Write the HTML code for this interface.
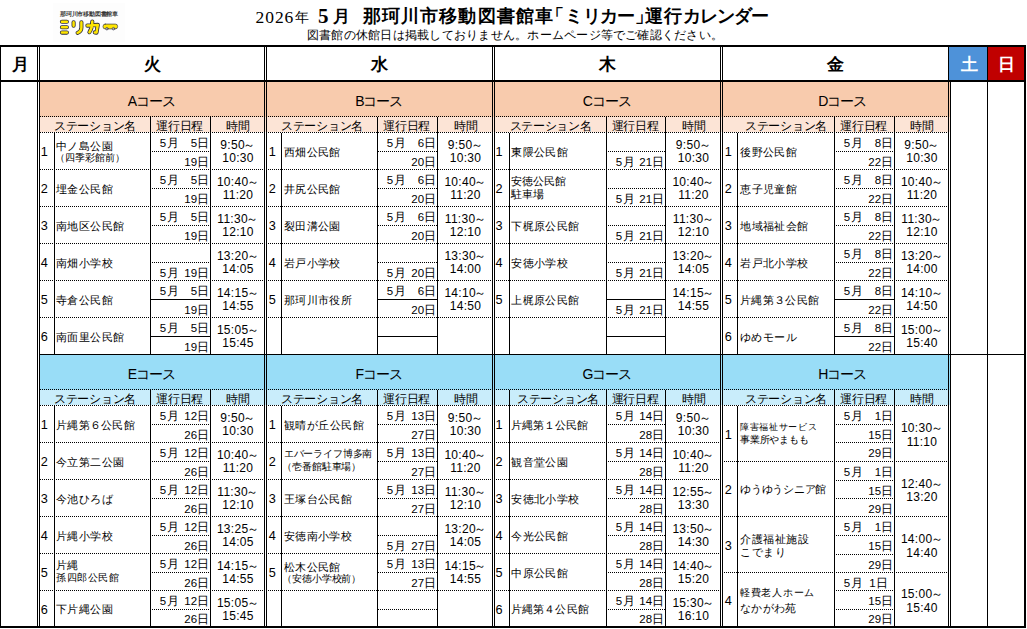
<!DOCTYPE html>
<html lang="ja"><head><meta charset="utf-8"><title>那珂川市移動図書館車「ミリカー」運行カレンダー</title>
<style>
html,body{margin:0;padding:0;background:#fff}
body{width:1027px;height:629px;position:relative;overflow:hidden;font-family:"Liberation Sans",sans-serif;color:#000}
div{box-sizing:border-box}
body>div{position:absolute}
.l{background:#000}
.dh{background:repeating-linear-gradient(90deg,#000 0,#000 1px,transparent 1px,transparent 2px)}
.o{background:repeating-linear-gradient(90deg,transparent 0,transparent 1px,#000 1px,#000 2px)}
.t{white-space:nowrap;height:20px;line-height:20px}
.ct{text-align:center;font-size:14px;letter-spacing:-1.1px}
.hd{text-align:center;font-size:12px;letter-spacing:-0.3px}
.dw{text-align:center;font-weight:bold;font-size:17px}
.nm{font-size:12.7px}
.st{font-size:11px;letter-spacing:0.42px}
.dt{font-size:11.5px}
.mo{letter-spacing:1px}
.r{text-align:right}
.tm{font-size:12px;letter-spacing:0.3px;text-align:center}
.w{margin-left:-1.6px}
.ttl{font-family:"Liberation Serif",serif}
</style></head><body>

<div class="ttl" style="left:255.5px;top:7.2px;font-size:17.5px;line-height:20px;letter-spacing:0.95px;white-space:nowrap">2026<span style="font-size:13.5px;letter-spacing:0;margin-left:0.5px;position:relative;top:-1px">年</span></div>
<div class="ttl" style="left:318px;top:3.9px;font-size:21px;line-height:24px;font-weight:bold;white-space:nowrap">5<span style="font-size:16.5px;margin-left:4.5px;position:relative;top:-1px">月</span></div>
<div class="ttl" style="left:363px;top:3.7px;font-size:17.5px;line-height:24px;font-weight:bold;white-space:nowrap;letter-spacing:1.1px">那珂川市移動図書館車<span style="margin-left:-8px">「</span><span style="letter-spacing:-0.6px">ミリカー</span><span style="letter-spacing:-8px">」</span>運行<span style="letter-spacing:-1.1px">カレンダー</span></div>
<div class="ttl" style="left:307px;top:27.6px;font-size:12px;line-height:14px;letter-spacing:0.24px;white-space:nowrap">図書館の休館日は掲載しておりません。ホームページ等でご確認ください。</div>
<div style="left:53px;top:3px;width:72px;height:39px;background:#fdfdfd"></div>
<div style="left:60px;top:10px;font-size:12px;line-height:14px;letter-spacing:-0.4px;color:#333;font-weight:bold;white-space:nowrap;transform:scale(0.5);transform-origin:0 0">那珂川市移動図書館車</div>
<svg style="position:absolute;left:52px;top:4px" width="76" height="38" viewBox="0 0 76 38" fill="none" stroke-linecap="round" stroke-linejoin="round">
<g stroke="#2e2e40" stroke-width="4.1">
<path d="M9.9 17.8H14.9M9.9 23.2H14.9M9.9 28.6H14.9"/>
<path d="M21.6 18.2V21.8M29.4 18.2V23.5Q29.4 27.4 25.6 28.8"/>
<path d="M35.4 21.6L45.8 20.9L44.5 28.6L42.8 28.4M40.3 17.5Q40.3 24 37.4 28.2"/>
</g>
<g stroke="#ffe600" stroke-width="2.5">
<path d="M9.9 17.8H14.9M9.9 23.2H14.9M9.9 28.6H14.9"/>
<path d="M21.6 18.2V21.8M29.4 18.2V23.5Q29.4 27.4 25.6 28.8"/>
<path d="M35.4 21.6L45.8 20.9L44.5 28.6L42.8 28.4M40.3 17.5Q40.3 24 37.4 28.2"/>
</g>
<rect x="51" y="20.1" width="14.6" height="4.8" rx="2.2" fill="#ffe600" stroke="#3a3a4e" stroke-width="0.7"/>
<circle cx="54.9" cy="24.7" r="1.3" fill="#aaa" stroke="#3a3a4e" stroke-width="0.6"/>
<circle cx="61.5" cy="24.7" r="1.3" fill="#aaa" stroke="#3a3a4e" stroke-width="0.6"/>
</svg>
<div style="left:949px;top:47px;width:38px;height:33px;background:#4e92d9"></div>
<div style="left:988px;top:47px;width:36px;height:33px;background:#c00000"></div>
<div style="left:39px;top:82px;width:227px;height:35px;background:#f8cbad"></div>
<div style="left:39px;top:117px;width:227px;height:15px;background:#fce4d6"></div>
<div class="t ct" style="left:39.2px;top:90.7px;width:224px;">Aコース</div>
<div class="t hd" style="left:40px;top:116px;width:110px;">ステーション名</div>
<div class="t hd" style="left:150.2px;top:116px;width:59px;">運行日程</div>
<div class="t hd" style="left:211.7px;top:116px;width:53px;">時間</div>
<div class="dh" style="left:40px;top:116px;width:224px;height:1px;"></div>
<div class="dh" style="left:40px;top:132px;width:224px;height:1px;"></div>
<div class="l" style="left:54px;top:133px;width:1px;height:221px;"></div>
<div class="l" style="left:150px;top:117px;width:1px;height:237px;"></div>
<div class="l" style="left:210px;top:117px;width:1px;height:237px;"></div>
<div class="dh" style="left:40px;top:169px;width:224px;height:1px;"></div>
<div class="dh o" style="left:151px;top:151px;width:59px;height:1px;"></div>
<div class="t nm" style="left:40.8px;top:142.1px;">1</div>
<div class="t st" style="left:56.05px;top:135.8px;">中ノ島公園</div>
<div class="t st" style="left:54.51px;top:147.9px;font-size:9.8px;letter-spacing:0px">（四季彩館前）</div>
<div class="t dt mo" style="left:159.7px;top:133.3px;">5月</div>
<div class="t dt r" style="left:169.1px;top:133.3px;width:40px;">5日</div>
<div class="t dt r" style="left:169.1px;top:151.8px;width:40px;">19日</div>
<div class="t tm" style="left:211.5px;top:135.1px;width:53px;">9:50<span class="w">～</span></div>
<div class="t tm" style="left:211.5px;top:148.1px;width:53px;">10:30</div>
<div class="dh" style="left:40px;top:206px;width:224px;height:1px;"></div>
<div class="dh o" style="left:151px;top:188px;width:59px;height:1px;"></div>
<div class="t nm" style="left:40.8px;top:179.1px;">2</div>
<div class="t st" style="left:56.05px;top:178.8px;">埋金公民館</div>
<div class="t dt mo" style="left:159.7px;top:170.3px;">5月</div>
<div class="t dt r" style="left:169.1px;top:170.3px;width:40px;">5日</div>
<div class="t dt r" style="left:169.1px;top:188.8px;width:40px;">19日</div>
<div class="t tm" style="left:211.5px;top:172.1px;width:53px;">10:40<span class="w">～</span></div>
<div class="t tm" style="left:211.5px;top:185.1px;width:53px;">11:20</div>
<div class="dh" style="left:40px;top:243px;width:224px;height:1px;"></div>
<div class="dh o" style="left:151px;top:225px;width:59px;height:1px;"></div>
<div class="t nm" style="left:40.8px;top:216.1px;">3</div>
<div class="t st" style="left:56.05px;top:215.8px;">南地区公民館</div>
<div class="t dt mo" style="left:159.7px;top:207.3px;">5月</div>
<div class="t dt r" style="left:169.1px;top:207.3px;width:40px;">5日</div>
<div class="t dt r" style="left:169.1px;top:225.8px;width:40px;">19日</div>
<div class="t tm" style="left:211.5px;top:209.1px;width:53px;">11:30<span class="w">～</span></div>
<div class="t tm" style="left:211.5px;top:222.1px;width:53px;">12:10</div>
<div class="dh" style="left:40px;top:280px;width:224px;height:1px;"></div>
<div class="dh o" style="left:151px;top:262px;width:59px;height:1px;"></div>
<div class="t nm" style="left:40.8px;top:253.1px;">4</div>
<div class="t st" style="left:56.05px;top:252.8px;">南畑小学校</div>
<div class="t dt mo" style="left:159.7px;top:262.8px;">5月</div>
<div class="t dt r" style="left:169.1px;top:262.8px;width:40px;">19日</div>
<div class="t tm" style="left:211.5px;top:246.1px;width:53px;">13:20<span class="w">～</span></div>
<div class="t tm" style="left:211.5px;top:259.1px;width:53px;">14:05</div>
<div class="dh" style="left:40px;top:317px;width:224px;height:1px;"></div>
<div class="l" style="left:151px;top:299px;width:59px;height:1px;"></div>
<div class="t nm" style="left:40.8px;top:290.1px;">5</div>
<div class="t st" style="left:56.05px;top:289.8px;">寺倉公民館</div>
<div class="t dt mo" style="left:159.7px;top:281.3px;">5月</div>
<div class="t dt r" style="left:169.1px;top:281.3px;width:40px;">5日</div>
<div class="t dt r" style="left:169.1px;top:299.8px;width:40px;">19日</div>
<div class="t tm" style="left:211.5px;top:283.1px;width:53px;">14:15<span class="w">～</span></div>
<div class="t tm" style="left:211.5px;top:296.1px;width:53px;">14:55</div>
<div class="l" style="left:151px;top:336px;width:59px;height:1px;"></div>
<div class="t nm" style="left:40.8px;top:327.1px;">6</div>
<div class="t st" style="left:56.05px;top:326.8px;">南面里公民館</div>
<div class="t dt mo" style="left:159.7px;top:318.3px;">5月</div>
<div class="t dt r" style="left:169.1px;top:318.3px;width:40px;">5日</div>
<div class="t dt r" style="left:169.1px;top:336.8px;width:40px;">19日</div>
<div class="t tm" style="left:211.5px;top:320.1px;width:53px;">15:05<span class="w">～</span></div>
<div class="t tm" style="left:211.5px;top:333.1px;width:53px;">15:45</div>
<div style="left:266px;top:82px;width:228px;height:35px;background:#f8cbad"></div>
<div style="left:266px;top:117px;width:228px;height:15px;background:#fce4d6"></div>
<div class="t ct" style="left:266.2px;top:90.7px;width:225px;">Bコース</div>
<div class="t hd" style="left:267px;top:116px;width:110px;">ステーション名</div>
<div class="t hd" style="left:377.2px;top:116px;width:59px;">運行日程</div>
<div class="t hd" style="left:438.7px;top:116px;width:54px;">時間</div>
<div class="dh o" style="left:267px;top:116px;width:225px;height:1px;"></div>
<div class="dh o" style="left:267px;top:132px;width:225px;height:1px;"></div>
<div class="l" style="left:281px;top:133px;width:1px;height:221px;"></div>
<div class="l" style="left:377px;top:117px;width:1px;height:237px;"></div>
<div class="l" style="left:437px;top:117px;width:1px;height:237px;"></div>
<div class="dh o" style="left:267px;top:169px;width:225px;height:1px;"></div>
<div class="dh" style="left:378px;top:151px;width:59px;height:1px;"></div>
<div class="t nm" style="left:268.7px;top:142.1px;">1</div>
<div class="t st" style="left:283.7px;top:141.8px;">西畑公民館</div>
<div class="t dt mo" style="left:386.7px;top:133.3px;">5月</div>
<div class="t dt r" style="left:396.1px;top:133.3px;width:40px;">6日</div>
<div class="t dt r" style="left:396.1px;top:151.8px;width:40px;">20日</div>
<div class="t tm" style="left:438.5px;top:135.1px;width:54px;">9:50<span class="w">～</span></div>
<div class="t tm" style="left:438.5px;top:148.1px;width:54px;">10:30</div>
<div class="dh o" style="left:267px;top:206px;width:225px;height:1px;"></div>
<div class="dh" style="left:378px;top:188px;width:59px;height:1px;"></div>
<div class="t nm" style="left:268.7px;top:179.1px;">2</div>
<div class="t st" style="left:283.7px;top:178.8px;">井尻公民館</div>
<div class="t dt mo" style="left:386.7px;top:170.3px;">5月</div>
<div class="t dt r" style="left:396.1px;top:170.3px;width:40px;">6日</div>
<div class="t dt r" style="left:396.1px;top:188.8px;width:40px;">20日</div>
<div class="t tm" style="left:438.5px;top:172.1px;width:54px;">10:40<span class="w">～</span></div>
<div class="t tm" style="left:438.5px;top:185.1px;width:54px;">11:20</div>
<div class="dh o" style="left:267px;top:243px;width:225px;height:1px;"></div>
<div class="dh" style="left:378px;top:225px;width:59px;height:1px;"></div>
<div class="t nm" style="left:268.7px;top:216.1px;">3</div>
<div class="t st" style="left:283.7px;top:215.8px;">裂田溝公園</div>
<div class="t dt mo" style="left:386.7px;top:207.3px;">5月</div>
<div class="t dt r" style="left:396.1px;top:207.3px;width:40px;">6日</div>
<div class="t dt r" style="left:396.1px;top:225.8px;width:40px;">20日</div>
<div class="t tm" style="left:438.5px;top:209.1px;width:54px;">11:30<span class="w">～</span></div>
<div class="t tm" style="left:438.5px;top:222.1px;width:54px;">12:10</div>
<div class="dh o" style="left:267px;top:280px;width:225px;height:1px;"></div>
<div class="dh" style="left:378px;top:262px;width:59px;height:1px;"></div>
<div class="t nm" style="left:268.7px;top:253.1px;">4</div>
<div class="t st" style="left:283.7px;top:252.8px;">岩戸小学校</div>
<div class="t dt mo" style="left:386.7px;top:262.8px;">5月</div>
<div class="t dt r" style="left:396.1px;top:262.8px;width:40px;">20日</div>
<div class="t tm" style="left:438.5px;top:246.1px;width:54px;">13:30<span class="w">～</span></div>
<div class="t tm" style="left:438.5px;top:259.1px;width:54px;">14:00</div>
<div class="dh o" style="left:267px;top:317px;width:225px;height:1px;"></div>
<div class="l" style="left:378px;top:299px;width:59px;height:1px;"></div>
<div class="t nm" style="left:268.7px;top:290.1px;">5</div>
<div class="t st" style="left:283.7px;top:289.8px;">那珂川市役所</div>
<div class="t dt mo" style="left:386.7px;top:281.3px;">5月</div>
<div class="t dt r" style="left:396.1px;top:281.3px;width:40px;">6日</div>
<div class="t dt r" style="left:396.1px;top:299.8px;width:40px;">20日</div>
<div class="t tm" style="left:438.5px;top:283.1px;width:54px;">14:10<span class="w">～</span></div>
<div class="t tm" style="left:438.5px;top:296.1px;width:54px;">14:50</div>
<div class="l" style="left:378px;top:336px;width:59px;height:1px;"></div>
<div style="left:494px;top:82px;width:228px;height:35px;background:#f8cbad"></div>
<div style="left:494px;top:117px;width:228px;height:15px;background:#fce4d6"></div>
<div class="t ct" style="left:494.2px;top:90.7px;width:225px;">Cコース</div>
<div class="t hd" style="left:495px;top:116px;width:111px;">ステーション名</div>
<div class="t hd" style="left:606.2px;top:116px;width:58px;">運行日程</div>
<div class="t hd" style="left:666.7px;top:116px;width:54px;">時間</div>
<div class="dh o" style="left:495px;top:116px;width:225px;height:1px;"></div>
<div class="dh o" style="left:495px;top:132px;width:225px;height:1px;"></div>
<div class="l" style="left:509px;top:133px;width:1px;height:221px;"></div>
<div class="l" style="left:606px;top:117px;width:1px;height:237px;"></div>
<div class="l" style="left:665px;top:117px;width:1px;height:237px;"></div>
<div class="dh o" style="left:495px;top:169px;width:225px;height:1px;"></div>
<div class="dh o" style="left:607px;top:151px;width:58px;height:1px;"></div>
<div class="t nm" style="left:495.6px;top:142.1px;">1</div>
<div class="t st" style="left:511.1px;top:141.8px;">東隈公民館</div>
<div class="t dt mo" style="left:615.7px;top:151.8px;">5月</div>
<div class="t dt r" style="left:624.1px;top:151.8px;width:40px;">21日</div>
<div class="t tm" style="left:666.5px;top:135.1px;width:54px;">9:50<span class="w">～</span></div>
<div class="t tm" style="left:666.5px;top:148.1px;width:54px;">10:30</div>
<div class="dh o" style="left:495px;top:206px;width:225px;height:1px;"></div>
<div class="dh o" style="left:607px;top:188px;width:58px;height:1px;"></div>
<div class="t nm" style="left:495.6px;top:179.1px;">2</div>
<div class="t st" style="left:511.1px;top:170.9px;font-size:10.6px;letter-spacing:-0.1px">安徳公民館</div>
<div class="t st" style="left:511.1px;top:184px;font-size:10.5px;letter-spacing:-0.25px">駐車場</div>
<div class="t dt mo" style="left:615.7px;top:188.8px;">5月</div>
<div class="t dt r" style="left:624.1px;top:188.8px;width:40px;">21日</div>
<div class="t tm" style="left:666.5px;top:172.1px;width:54px;">10:40<span class="w">～</span></div>
<div class="t tm" style="left:666.5px;top:185.1px;width:54px;">11:20</div>
<div class="dh o" style="left:495px;top:243px;width:225px;height:1px;"></div>
<div class="dh o" style="left:607px;top:225px;width:58px;height:1px;"></div>
<div class="t nm" style="left:495.6px;top:216.1px;">3</div>
<div class="t st" style="left:511.1px;top:215.8px;">下梶原公民館</div>
<div class="t dt mo" style="left:615.7px;top:225.8px;">5月</div>
<div class="t dt r" style="left:624.1px;top:225.8px;width:40px;">21日</div>
<div class="t tm" style="left:666.5px;top:209.1px;width:54px;">11:30<span class="w">～</span></div>
<div class="t tm" style="left:666.5px;top:222.1px;width:54px;">12:10</div>
<div class="dh o" style="left:495px;top:280px;width:225px;height:1px;"></div>
<div class="dh o" style="left:607px;top:262px;width:58px;height:1px;"></div>
<div class="t nm" style="left:495.6px;top:253.1px;">4</div>
<div class="t st" style="left:511.1px;top:252.8px;">安徳小学校</div>
<div class="t dt mo" style="left:615.7px;top:262.8px;">5月</div>
<div class="t dt r" style="left:624.1px;top:262.8px;width:40px;">21日</div>
<div class="t tm" style="left:666.5px;top:246.1px;width:54px;">13:20<span class="w">～</span></div>
<div class="t tm" style="left:666.5px;top:259.1px;width:54px;">14:05</div>
<div class="dh o" style="left:495px;top:317px;width:225px;height:1px;"></div>
<div class="l" style="left:607px;top:299px;width:58px;height:1px;"></div>
<div class="t nm" style="left:495.6px;top:290.1px;">5</div>
<div class="t st" style="left:511.1px;top:289.8px;">上梶原公民館</div>
<div class="t dt mo" style="left:615.7px;top:299.8px;">5月</div>
<div class="t dt r" style="left:624.1px;top:299.8px;width:40px;">21日</div>
<div class="t tm" style="left:666.5px;top:283.1px;width:54px;">14:15<span class="w">～</span></div>
<div class="t tm" style="left:666.5px;top:296.1px;width:54px;">14:55</div>
<div class="l" style="left:607px;top:336px;width:58px;height:1px;"></div>
<div style="left:722px;top:82px;width:228px;height:35px;background:#f8cbad"></div>
<div style="left:722px;top:117px;width:228px;height:15px;background:#fce4d6"></div>
<div class="t ct" style="left:737.2px;top:90.7px;width:210px;">Dコース</div>
<div class="t hd" style="left:738px;top:116px;width:96px;">ステーション名</div>
<div class="t hd" style="left:834.2px;top:116px;width:59px;">運行日程</div>
<div class="t hd" style="left:895.7px;top:116px;width:53px;">時間</div>
<div class="dh o" style="left:723px;top:116px;width:225px;height:1px;"></div>
<div class="dh o" style="left:723px;top:132px;width:225px;height:1px;"></div>
<div class="l" style="left:737px;top:133px;width:1px;height:221px;"></div>
<div class="l" style="left:834px;top:117px;width:1px;height:237px;"></div>
<div class="l" style="left:894px;top:117px;width:1px;height:237px;"></div>
<div class="dh o" style="left:723px;top:169px;width:225px;height:1px;"></div>
<div class="dh o" style="left:835px;top:151px;width:59px;height:1px;"></div>
<div class="t nm" style="left:724.8px;top:142.1px;">1</div>
<div class="t st" style="left:740.1px;top:141.8px;">後野公民館</div>
<div class="t dt mo" style="left:843.7px;top:133.3px;">5月</div>
<div class="t dt r" style="left:853.1px;top:133.3px;width:40px;">8日</div>
<div class="t dt r" style="left:853.1px;top:151.8px;width:40px;">22日</div>
<div class="t tm" style="left:895.5px;top:135.1px;width:53px;">9:50<span class="w">～</span></div>
<div class="t tm" style="left:895.5px;top:148.1px;width:53px;">10:30</div>
<div class="dh o" style="left:723px;top:206px;width:225px;height:1px;"></div>
<div class="dh o" style="left:835px;top:188px;width:59px;height:1px;"></div>
<div class="t nm" style="left:724.8px;top:179.1px;">2</div>
<div class="t st" style="left:740.1px;top:178.8px;">恵子児童館</div>
<div class="t dt mo" style="left:843.7px;top:170.3px;">5月</div>
<div class="t dt r" style="left:853.1px;top:170.3px;width:40px;">8日</div>
<div class="t dt r" style="left:853.1px;top:188.8px;width:40px;">22日</div>
<div class="t tm" style="left:895.5px;top:172.1px;width:53px;">10:40<span class="w">～</span></div>
<div class="t tm" style="left:895.5px;top:185.1px;width:53px;">11:20</div>
<div class="dh o" style="left:723px;top:243px;width:225px;height:1px;"></div>
<div class="dh o" style="left:835px;top:225px;width:59px;height:1px;"></div>
<div class="t nm" style="left:724.8px;top:216.1px;">3</div>
<div class="t st" style="left:740.1px;top:215.8px;">地域福祉会館</div>
<div class="t dt mo" style="left:843.7px;top:207.3px;">5月</div>
<div class="t dt r" style="left:853.1px;top:207.3px;width:40px;">8日</div>
<div class="t dt r" style="left:853.1px;top:225.8px;width:40px;">22日</div>
<div class="t tm" style="left:895.5px;top:209.1px;width:53px;">11:30<span class="w">～</span></div>
<div class="t tm" style="left:895.5px;top:222.1px;width:53px;">12:10</div>
<div class="dh o" style="left:723px;top:280px;width:225px;height:1px;"></div>
<div class="dh o" style="left:835px;top:262px;width:59px;height:1px;"></div>
<div class="t nm" style="left:724.8px;top:253.1px;">4</div>
<div class="t st" style="left:740.1px;top:252.8px;">岩戸北小学校</div>
<div class="t dt mo" style="left:843.7px;top:244.3px;">5月</div>
<div class="t dt r" style="left:853.1px;top:244.3px;width:40px;">8日</div>
<div class="t dt r" style="left:853.1px;top:262.8px;width:40px;">22日</div>
<div class="t tm" style="left:895.5px;top:246.1px;width:53px;">13:20<span class="w">～</span></div>
<div class="t tm" style="left:895.5px;top:259.1px;width:53px;">14:00</div>
<div class="dh o" style="left:723px;top:317px;width:225px;height:1px;"></div>
<div class="l" style="left:835px;top:299px;width:59px;height:1px;"></div>
<div class="t nm" style="left:724.8px;top:290.1px;">5</div>
<div class="t st" style="left:740.1px;top:289.8px;font-size:11px;letter-spacing:0.3px">片縄第３公民館</div>
<div class="t dt mo" style="left:843.7px;top:281.3px;">5月</div>
<div class="t dt r" style="left:853.1px;top:281.3px;width:40px;">8日</div>
<div class="t dt r" style="left:853.1px;top:299.8px;width:40px;">22日</div>
<div class="t tm" style="left:895.5px;top:283.1px;width:53px;">14:10<span class="w">～</span></div>
<div class="t tm" style="left:895.5px;top:296.1px;width:53px;">14:50</div>
<div class="l" style="left:835px;top:336px;width:59px;height:1px;"></div>
<div class="t nm" style="left:724.8px;top:327.1px;">6</div>
<div class="t st" style="left:740.1px;top:326.8px;font-size:11.1px;letter-spacing:0.4px">ゆめモール</div>
<div class="t dt mo" style="left:843.7px;top:318.3px;">5月</div>
<div class="t dt r" style="left:853.1px;top:318.3px;width:40px;">8日</div>
<div class="t dt r" style="left:853.1px;top:336.8px;width:40px;">22日</div>
<div class="t tm" style="left:895.5px;top:320.1px;width:53px;">15:00<span class="w">～</span></div>
<div class="t tm" style="left:895.5px;top:333.1px;width:53px;">15:40</div>
<div style="left:39px;top:355px;width:227px;height:35px;background:#99ddf7"></div>
<div style="left:39px;top:390px;width:227px;height:15px;background:#c9edfb"></div>
<div class="t ct" style="left:39.2px;top:363.7px;width:224px;">Eコース</div>
<div class="t hd" style="left:40px;top:389px;width:110px;">ステーション名</div>
<div class="t hd" style="left:150.2px;top:389px;width:59px;">運行日程</div>
<div class="t hd" style="left:211.7px;top:389px;width:53px;">時間</div>
<div class="dh" style="left:40px;top:389px;width:224px;height:1px;"></div>
<div class="dh" style="left:40px;top:405px;width:224px;height:1px;"></div>
<div class="l" style="left:54px;top:406px;width:1px;height:220px;"></div>
<div class="l" style="left:150px;top:390px;width:1px;height:236px;"></div>
<div class="l" style="left:210px;top:390px;width:1px;height:236px;"></div>
<div class="dh" style="left:40px;top:442px;width:224px;height:1px;"></div>
<div class="dh o" style="left:151px;top:424px;width:59px;height:1px;"></div>
<div class="t nm" style="left:40.8px;top:415.1px;">1</div>
<div class="t st" style="left:56.05px;top:414.8px;font-size:11px;letter-spacing:0.25px">片縄第６公民館</div>
<div class="t dt mo" style="left:159.7px;top:406.3px;">5月</div>
<div class="t dt r" style="left:169.1px;top:406.3px;width:40px;">12日</div>
<div class="t dt r" style="left:169.1px;top:424.8px;width:40px;">26日</div>
<div class="t tm" style="left:211.5px;top:408.1px;width:53px;">9:50<span class="w">～</span></div>
<div class="t tm" style="left:211.5px;top:421.1px;width:53px;">10:30</div>
<div class="dh" style="left:40px;top:479px;width:224px;height:1px;"></div>
<div class="dh o" style="left:151px;top:461px;width:59px;height:1px;"></div>
<div class="t nm" style="left:40.8px;top:452.1px;">2</div>
<div class="t st" style="left:56.05px;top:451.8px;">今立第二公園</div>
<div class="t dt mo" style="left:159.7px;top:443.3px;">5月</div>
<div class="t dt r" style="left:169.1px;top:443.3px;width:40px;">12日</div>
<div class="t dt r" style="left:169.1px;top:461.8px;width:40px;">26日</div>
<div class="t tm" style="left:211.5px;top:445.1px;width:53px;">10:40<span class="w">～</span></div>
<div class="t tm" style="left:211.5px;top:458.1px;width:53px;">11:20</div>
<div class="dh" style="left:40px;top:516px;width:224px;height:1px;"></div>
<div class="dh o" style="left:151px;top:498px;width:59px;height:1px;"></div>
<div class="t nm" style="left:40.8px;top:489.1px;">3</div>
<div class="t st" style="left:56.05px;top:488.8px;">今池ひろば</div>
<div class="t dt mo" style="left:159.7px;top:480.3px;">5月</div>
<div class="t dt r" style="left:169.1px;top:480.3px;width:40px;">12日</div>
<div class="t dt r" style="left:169.1px;top:498.8px;width:40px;">26日</div>
<div class="t tm" style="left:211.5px;top:482.1px;width:53px;">11:30<span class="w">～</span></div>
<div class="t tm" style="left:211.5px;top:495.1px;width:53px;">12:10</div>
<div class="dh" style="left:40px;top:553px;width:224px;height:1px;"></div>
<div class="dh o" style="left:151px;top:535px;width:59px;height:1px;"></div>
<div class="t nm" style="left:40.8px;top:526.1px;">4</div>
<div class="t st" style="left:56.05px;top:525.8px;">片縄小学校</div>
<div class="t dt mo" style="left:159.7px;top:517.3px;">5月</div>
<div class="t dt r" style="left:169.1px;top:517.3px;width:40px;">12日</div>
<div class="t dt r" style="left:169.1px;top:535.8px;width:40px;">26日</div>
<div class="t tm" style="left:211.5px;top:519.1px;width:53px;">13:25<span class="w">～</span></div>
<div class="t tm" style="left:211.5px;top:532.1px;width:53px;">14:05</div>
<div class="dh" style="left:40px;top:590px;width:224px;height:1px;"></div>
<div class="dh o" style="left:151px;top:572px;width:59px;height:1px;"></div>
<div class="t nm" style="left:40.8px;top:563.1px;">5</div>
<div class="t st" style="left:56.05px;top:554.9px;font-size:10.9px;letter-spacing:0.2px">片縄</div>
<div class="t st" style="left:56.05px;top:568px;font-size:10.3px;letter-spacing:0.6px">孫四郎公民館</div>
<div class="t dt mo" style="left:159.7px;top:554.3px;">5月</div>
<div class="t dt r" style="left:169.1px;top:554.3px;width:40px;">12日</div>
<div class="t dt r" style="left:169.1px;top:572.8px;width:40px;">26日</div>
<div class="t tm" style="left:211.5px;top:556.1px;width:53px;">14:15<span class="w">～</span></div>
<div class="t tm" style="left:211.5px;top:569.1px;width:53px;">14:55</div>
<div class="dh o" style="left:151px;top:609px;width:59px;height:1px;"></div>
<div class="t nm" style="left:40.8px;top:599.6px;">6</div>
<div class="t st" style="left:56.05px;top:599.3px;">下片縄公園</div>
<div class="t dt mo" style="left:159.7px;top:591.3px;">5月</div>
<div class="t dt r" style="left:169.1px;top:591.3px;width:40px;">12日</div>
<div class="t dt r" style="left:169.1px;top:609.3px;width:40px;">26日</div>
<div class="t tm" style="left:211.5px;top:592.6px;width:53px;">15:05<span class="w">～</span></div>
<div class="t tm" style="left:211.5px;top:605.6px;width:53px;">15:45</div>
<div style="left:266px;top:355px;width:228px;height:35px;background:#99ddf7"></div>
<div style="left:266px;top:390px;width:228px;height:15px;background:#c9edfb"></div>
<div class="t ct" style="left:266.2px;top:363.7px;width:225px;">Fコース</div>
<div class="t hd" style="left:267px;top:389px;width:110px;">ステーション名</div>
<div class="t hd" style="left:377.2px;top:389px;width:59px;">運行日程</div>
<div class="t hd" style="left:438.7px;top:389px;width:54px;">時間</div>
<div class="dh o" style="left:267px;top:389px;width:225px;height:1px;"></div>
<div class="dh o" style="left:267px;top:405px;width:225px;height:1px;"></div>
<div class="l" style="left:281px;top:406px;width:1px;height:220px;"></div>
<div class="l" style="left:377px;top:390px;width:1px;height:236px;"></div>
<div class="l" style="left:437px;top:390px;width:1px;height:236px;"></div>
<div class="dh o" style="left:267px;top:442px;width:225px;height:1px;"></div>
<div class="dh" style="left:378px;top:424px;width:59px;height:1px;"></div>
<div class="t nm" style="left:268.7px;top:415.1px;">1</div>
<div class="t st" style="left:283.7px;top:414.8px;font-size:11.2px;letter-spacing:0.5px">観晴が丘公民館</div>
<div class="t dt mo" style="left:386.7px;top:406.3px;">5月</div>
<div class="t dt r" style="left:396.1px;top:406.3px;width:40px;">13日</div>
<div class="t dt r" style="left:396.1px;top:424.8px;width:40px;">27日</div>
<div class="t tm" style="left:438.5px;top:408.1px;width:54px;">9:50<span class="w">～</span></div>
<div class="t tm" style="left:438.5px;top:421.1px;width:54px;">10:30</div>
<div class="dh o" style="left:267px;top:479px;width:225px;height:1px;"></div>
<div class="dh" style="left:378px;top:461px;width:59px;height:1px;"></div>
<div class="t nm" style="left:268.7px;top:452.1px;">2</div>
<div class="t st" style="left:283.7px;top:444.4px;font-size:9.6px;letter-spacing:-0.15px">エバーライフ博多南</div>
<div class="t st" style="left:282.3px;top:457.4px;font-size:9.6px;letter-spacing:-0.15px">（壱番館駐車場）</div>
<div class="t dt mo" style="left:386.7px;top:443.3px;">5月</div>
<div class="t dt r" style="left:396.1px;top:443.3px;width:40px;">13日</div>
<div class="t dt r" style="left:396.1px;top:461.8px;width:40px;">27日</div>
<div class="t tm" style="left:438.5px;top:445.1px;width:54px;">10:40<span class="w">～</span></div>
<div class="t tm" style="left:438.5px;top:458.1px;width:54px;">11:20</div>
<div class="dh o" style="left:267px;top:516px;width:225px;height:1px;"></div>
<div class="dh" style="left:378px;top:498px;width:59px;height:1px;"></div>
<div class="t nm" style="left:268.7px;top:489.1px;">3</div>
<div class="t st" style="left:283.7px;top:488.8px;">王塚台公民館</div>
<div class="t dt mo" style="left:386.7px;top:480.3px;">5月</div>
<div class="t dt r" style="left:396.1px;top:480.3px;width:40px;">13日</div>
<div class="t dt r" style="left:396.1px;top:498.8px;width:40px;">27日</div>
<div class="t tm" style="left:438.5px;top:482.1px;width:54px;">11:30<span class="w">～</span></div>
<div class="t tm" style="left:438.5px;top:495.1px;width:54px;">12:10</div>
<div class="dh o" style="left:267px;top:553px;width:225px;height:1px;"></div>
<div class="dh" style="left:378px;top:535px;width:59px;height:1px;"></div>
<div class="t nm" style="left:268.7px;top:526.1px;">4</div>
<div class="t st" style="left:283.7px;top:525.8px;">安徳南小学校</div>
<div class="t dt mo" style="left:386.7px;top:535.8px;">5月</div>
<div class="t dt r" style="left:396.1px;top:535.8px;width:40px;">27日</div>
<div class="t tm" style="left:438.5px;top:519.1px;width:54px;">13:20<span class="w">～</span></div>
<div class="t tm" style="left:438.5px;top:532.1px;width:54px;">14:05</div>
<div class="dh o" style="left:267px;top:590px;width:225px;height:1px;"></div>
<div class="dh" style="left:378px;top:572px;width:59px;height:1px;"></div>
<div class="t nm" style="left:268.7px;top:563.1px;">5</div>
<div class="t st" style="left:283.7px;top:556.8px;">松木公民館</div>
<div class="t st" style="left:282.3px;top:568.9px;font-size:9.6px;letter-spacing:-0.15px">（安徳小学校前）</div>
<div class="t dt mo" style="left:386.7px;top:554.3px;">5月</div>
<div class="t dt r" style="left:396.1px;top:554.3px;width:40px;">13日</div>
<div class="t dt r" style="left:396.1px;top:572.8px;width:40px;">27日</div>
<div class="t tm" style="left:438.5px;top:556.1px;width:54px;">14:15<span class="w">～</span></div>
<div class="t tm" style="left:438.5px;top:569.1px;width:54px;">14:55</div>
<div class="dh" style="left:378px;top:609px;width:59px;height:1px;"></div>
<div style="left:494px;top:355px;width:228px;height:35px;background:#99ddf7"></div>
<div style="left:494px;top:390px;width:228px;height:15px;background:#c9edfb"></div>
<div class="t ct" style="left:494.2px;top:363.7px;width:225px;">Gコース</div>
<div class="t hd" style="left:510px;top:389px;width:96px;">ステーション名</div>
<div class="t hd" style="left:606.2px;top:389px;width:58px;">運行日程</div>
<div class="t hd" style="left:666.7px;top:389px;width:54px;">時間</div>
<div class="dh o" style="left:495px;top:389px;width:225px;height:1px;"></div>
<div class="dh o" style="left:495px;top:405px;width:225px;height:1px;"></div>
<div class="l" style="left:509px;top:390px;width:1px;height:236px;"></div>
<div class="l" style="left:606px;top:390px;width:1px;height:236px;"></div>
<div class="l" style="left:665px;top:390px;width:1px;height:236px;"></div>
<div class="dh o" style="left:495px;top:442px;width:225px;height:1px;"></div>
<div class="dh o" style="left:607px;top:424px;width:58px;height:1px;"></div>
<div class="t nm" style="left:495.6px;top:415.1px;">1</div>
<div class="t st" style="left:511.1px;top:414.8px;font-size:10.7px;letter-spacing:0px">片縄第１公民館</div>
<div class="t dt mo" style="left:615.7px;top:406.3px;">5月</div>
<div class="t dt r" style="left:624.1px;top:406.3px;width:40px;">14日</div>
<div class="t dt r" style="left:624.1px;top:424.8px;width:40px;">28日</div>
<div class="t tm" style="left:666.5px;top:408.1px;width:54px;">9:50<span class="w">～</span></div>
<div class="t tm" style="left:666.5px;top:421.1px;width:54px;">10:30</div>
<div class="dh o" style="left:495px;top:479px;width:225px;height:1px;"></div>
<div class="dh o" style="left:607px;top:461px;width:58px;height:1px;"></div>
<div class="t nm" style="left:495.6px;top:452.1px;">2</div>
<div class="t st" style="left:511.1px;top:451.8px;">観音堂公園</div>
<div class="t dt mo" style="left:615.7px;top:443.3px;">5月</div>
<div class="t dt r" style="left:624.1px;top:443.3px;width:40px;">14日</div>
<div class="t dt r" style="left:624.1px;top:461.8px;width:40px;">28日</div>
<div class="t tm" style="left:666.5px;top:445.1px;width:54px;">10:40<span class="w">～</span></div>
<div class="t tm" style="left:666.5px;top:458.1px;width:54px;">11:20</div>
<div class="dh o" style="left:495px;top:516px;width:225px;height:1px;"></div>
<div class="dh o" style="left:607px;top:498px;width:58px;height:1px;"></div>
<div class="t nm" style="left:495.6px;top:489.1px;">3</div>
<div class="t st" style="left:511.1px;top:488.8px;">安徳北小学校</div>
<div class="t dt mo" style="left:615.7px;top:480.3px;">5月</div>
<div class="t dt r" style="left:624.1px;top:480.3px;width:40px;">14日</div>
<div class="t dt r" style="left:624.1px;top:498.8px;width:40px;">28日</div>
<div class="t tm" style="left:666.5px;top:482.1px;width:54px;">12:55<span class="w">～</span></div>
<div class="t tm" style="left:666.5px;top:495.1px;width:54px;">13:30</div>
<div class="dh o" style="left:495px;top:553px;width:225px;height:1px;"></div>
<div class="dh o" style="left:607px;top:535px;width:58px;height:1px;"></div>
<div class="t nm" style="left:495.6px;top:526.1px;">4</div>
<div class="t st" style="left:511.1px;top:525.8px;">今光公民館</div>
<div class="t dt mo" style="left:615.7px;top:517.3px;">5月</div>
<div class="t dt r" style="left:624.1px;top:517.3px;width:40px;">14日</div>
<div class="t dt r" style="left:624.1px;top:535.8px;width:40px;">28日</div>
<div class="t tm" style="left:666.5px;top:519.1px;width:54px;">13:50<span class="w">～</span></div>
<div class="t tm" style="left:666.5px;top:532.1px;width:54px;">14:30</div>
<div class="dh o" style="left:495px;top:590px;width:225px;height:1px;"></div>
<div class="dh o" style="left:607px;top:572px;width:58px;height:1px;"></div>
<div class="t nm" style="left:495.6px;top:563.1px;">5</div>
<div class="t st" style="left:511.1px;top:562.8px;">中原公民館</div>
<div class="t dt mo" style="left:615.7px;top:554.3px;">5月</div>
<div class="t dt r" style="left:624.1px;top:554.3px;width:40px;">14日</div>
<div class="t dt r" style="left:624.1px;top:572.8px;width:40px;">28日</div>
<div class="t tm" style="left:666.5px;top:556.1px;width:54px;">14:40<span class="w">～</span></div>
<div class="t tm" style="left:666.5px;top:569.1px;width:54px;">15:20</div>
<div class="dh o" style="left:607px;top:609px;width:58px;height:1px;"></div>
<div class="t nm" style="left:495.6px;top:599.6px;">6</div>
<div class="t st" style="left:511.1px;top:599.3px;font-size:10.8px;letter-spacing:0.1px">片縄第４公民館</div>
<div class="t dt mo" style="left:615.7px;top:591.3px;">5月</div>
<div class="t dt r" style="left:624.1px;top:591.3px;width:40px;">14日</div>
<div class="t dt r" style="left:624.1px;top:609.3px;width:40px;">28日</div>
<div class="t tm" style="left:666.5px;top:592.6px;width:54px;">15:30<span class="w">～</span></div>
<div class="t tm" style="left:666.5px;top:605.6px;width:54px;">16:10</div>
<div style="left:722px;top:355px;width:228px;height:35px;background:#99ddf7"></div>
<div style="left:722px;top:390px;width:228px;height:15px;background:#c9edfb"></div>
<div class="t ct" style="left:737.2px;top:363.7px;width:210px;">Hコース</div>
<div class="t hd" style="left:738px;top:389px;width:96px;">ステーション名</div>
<div class="t hd" style="left:834.2px;top:389px;width:59px;">運行日程</div>
<div class="t hd" style="left:895.7px;top:389px;width:53px;">時間</div>
<div class="dh o" style="left:723px;top:389px;width:225px;height:1px;"></div>
<div class="dh o" style="left:723px;top:405px;width:225px;height:1px;"></div>
<div class="l" style="left:737px;top:406px;width:1px;height:220px;"></div>
<div class="l" style="left:834px;top:390px;width:1px;height:236px;"></div>
<div class="l" style="left:894px;top:390px;width:1px;height:236px;"></div>
<div class="dh o" style="left:723px;top:461px;width:225px;height:1px;"></div>
<div class="dh o" style="left:835px;top:424px;width:59px;height:1px;"></div>
<div class="dh o" style="left:835px;top:442px;width:59px;height:1px;"></div>
<div class="t nm" style="left:724.8px;top:424.6px;">1</div>
<div class="t st" style="left:740.1px;top:416.9px;font-size:9.4px;letter-spacing:0.65px">障害福祉サービス</div>
<div class="t st" style="left:740.1px;top:430.3px;font-size:9.6px;letter-spacing:-0.2px">事業所やまもも</div>
<div class="t dt mo" style="left:843.7px;top:406.3px;">5月</div>
<div class="t dt r" style="left:853.1px;top:406.3px;width:40px;">1日</div>
<div class="t dt r" style="left:853.1px;top:424.8px;width:40px;">15日</div>
<div class="t dt r" style="left:853.1px;top:443.3px;width:40px;">29日</div>
<div class="t tm" style="left:895.5px;top:418.4px;width:53px;">10:30<span class="w">～</span></div>
<div class="t tm" style="left:895.5px;top:431.5px;width:53px;">11:10</div>
<div class="dh o" style="left:723px;top:516px;width:225px;height:1px;"></div>
<div class="dh o" style="left:835px;top:480px;width:59px;height:1px;"></div>
<div class="dh o" style="left:835px;top:498px;width:59px;height:1px;"></div>
<div class="t nm" style="left:724.8px;top:480.1px;">2</div>
<div class="t st" style="left:740.1px;top:478.8px;font-size:10.5px;letter-spacing:-0.25px">ゆうゆうシニア館</div>
<div class="t dt mo" style="left:843.7px;top:462.3px;">5月</div>
<div class="t dt r" style="left:853.1px;top:462.3px;width:40px;">1日</div>
<div class="t dt r" style="left:853.1px;top:480.8px;width:40px;">15日</div>
<div class="t dt r" style="left:853.1px;top:498.8px;width:40px;">29日</div>
<div class="t tm" style="left:895.5px;top:473.9px;width:53px;">12:40<span class="w">～</span></div>
<div class="t tm" style="left:895.5px;top:487px;width:53px;">13:20</div>
<div class="dh o" style="left:723px;top:572px;width:225px;height:1px;"></div>
<div class="dh o" style="left:835px;top:535px;width:59px;height:1px;"></div>
<div class="dh o" style="left:835px;top:554px;width:59px;height:1px;"></div>
<div class="t nm" style="left:724.8px;top:535.6px;">3</div>
<div class="t st" style="left:740.1px;top:529px;font-size:11.2px;letter-spacing:0.5px">介護福祉施設</div>
<div class="t st" style="left:740.1px;top:541.7px;font-size:11.3px;letter-spacing:0.6px">こでまり</div>
<div class="t dt mo" style="left:843.7px;top:517.3px;">5月</div>
<div class="t dt r" style="left:853.1px;top:517.3px;width:40px;">1日</div>
<div class="t dt r" style="left:853.1px;top:536.3px;width:40px;">15日</div>
<div class="t dt r" style="left:853.1px;top:554.8px;width:40px;">29日</div>
<div class="t tm" style="left:895.5px;top:529.4px;width:53px;">14:00<span class="w">～</span></div>
<div class="t tm" style="left:895.5px;top:542.5px;width:53px;">14:40</div>
<div class="dh o" style="left:835px;top:590px;width:59px;height:1px;"></div>
<div class="dh o" style="left:835px;top:609px;width:59px;height:1px;"></div>
<div class="t nm" style="left:724.8px;top:590.6px;">4</div>
<div class="t st" style="left:740.1px;top:583.4px;font-size:10.4px;letter-spacing:0.7px">軽費老人ホーム</div>
<div class="t st" style="left:740.1px;top:597.9px;font-size:11px;letter-spacing:0.25px">なかがわ苑</div>
<div class="t dt mo" style="left:843.7px;top:572.8px;">5月</div>
<div class="t dt r" style="left:847.6px;top:572.8px;width:40px;">1日</div>
<div class="t dt r" style="left:853.1px;top:591.3px;width:40px;">15日</div>
<div class="t dt r" style="left:853.1px;top:609.3px;width:40px;">29日</div>
<div class="t tm" style="left:895.5px;top:584.4px;width:53px;">15:00<span class="w">～</span></div>
<div class="t tm" style="left:895.5px;top:597.5px;width:53px;">15:40</div>
<div class="l" style="left:0px;top:45px;width:1026px;height:2px;"></div>
<div class="l" style="left:0px;top:80px;width:1026px;height:2px;"></div>
<div class="l" style="left:0px;top:626px;width:1026px;height:2px;"></div>
<div class="l" style="left:0px;top:45px;width:1px;height:583px;"></div>
<div class="l" style="left:1024px;top:45px;width:2px;height:583px;"></div>
<div class="l" style="left:37px;top:47px;width:1px;height:579px;"></div>
<div class="l" style="left:39px;top:47px;width:1px;height:579px;"></div>
<div class="l" style="left:264px;top:47px;width:1px;height:579px;"></div>
<div class="l" style="left:266px;top:47px;width:1px;height:579px;"></div>
<div class="l" style="left:492px;top:47px;width:1px;height:579px;"></div>
<div class="l" style="left:494px;top:47px;width:1px;height:579px;"></div>
<div class="l" style="left:720px;top:47px;width:1px;height:579px;"></div>
<div class="l" style="left:722px;top:47px;width:1px;height:579px;"></div>
<div class="l" style="left:948px;top:47px;width:1px;height:579px;"></div>
<div class="l" style="left:950px;top:82px;width:1px;height:544px;"></div>
<div class="l" style="left:987px;top:47px;width:1px;height:579px;"></div>
<div class="l" style="left:40px;top:354px;width:911px;height:1px;"></div>
<div class="l" style="left:951px;top:354px;width:73px;height:1px;"></div>
<div class="t dw" style="left:2px;top:54.5px;width:36px;">月</div>
<div class="t dw" style="left:40px;top:54.5px;width:224px;">火</div>
<div class="t dw" style="left:267px;top:54.5px;width:224px;">水</div>
<div class="t dw" style="left:495px;top:54.5px;width:225px;">木</div>
<div class="t dw" style="left:723px;top:54.5px;width:225px;">金</div>
<div class="t dw" style="left:951px;top:54.5px;width:36px;color:#fff">土</div>
<div class="t dw" style="left:988px;top:54.5px;width:36px;color:#fff">日</div>
</body></html>
